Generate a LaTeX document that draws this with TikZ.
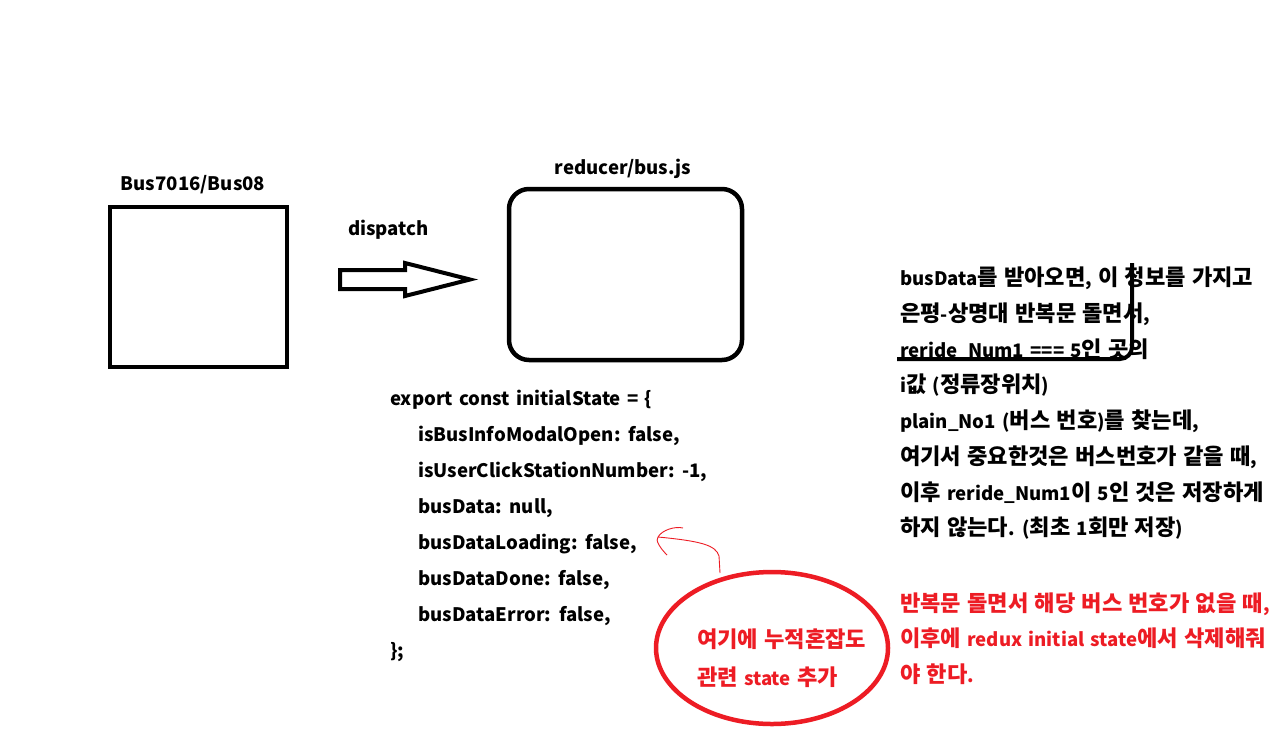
\documentclass[tikz,border=0pt]{standalone}
\usepackage{fontspec}
\setmainfont{Noto Sans CJK KR}[WordSpace=1.45]
\newfontfamily\krf{Noto Sans CJK KR}[Scale=1.19]
\XeTeXinterchartokenstate=1
\newXeTeXintercharclass\HangulClass
\newcount\hgc \hgc="AC00
\loop\XeTeXcharclass\hgc=\HangulClass \ifnum\hgc<"D7A3 \advance\hgc by 1 \repeat
\XeTeXinterchartoks 0 \HangulClass = {\krf}
\XeTeXinterchartoks 4095 \HangulClass = {\krf}
\XeTeXinterchartoks \HangulClass 0 = {\rmfamily}
\XeTeXinterchartoks \HangulClass 4095 = {\rmfamily}
\usetikzlibrary{shapes.geometric}
\definecolor{pred}{HTML}{ED1C24}
\tikzset{
  txt/.style={anchor=base west, inner sep=0pt, font=\fontsize{18.6}{24}\selectfont\bfseries},
  rtxt/.style={txt, text=pred},
  thick box/.style={draw=black, line width=4.5pt, inner sep=0pt},
}
\begin{document}
\begin{tikzpicture}[x=1pt,y=-1pt]
\useasboundingbox[fill=white] (0,0) rectangle (1281,755);
% boxes
\node[thick box, minimum width=177pt, minimum height=160pt] (src) at (198.5,287) {};
\node[thick box, rounded corners=20pt, minimum width=233pt, minimum height=171pt] (red) at (625.5,274.5) {};
\node[txt, anchor=base] (srcl) at (193,190) {Bus7016/Bus08};
\node[txt, anchor=base] (redl) at (623,174) {reducer/bus.js};
\node[txt] (disp) at (348,235) {dispatch};
% hollow arrow
\draw[line width=4pt, line join=miter] (340,270) -- (405,270) -- (405,263) -- (470,279.5) -- (405,296) -- (405,289) -- (340,289) -- cycle;
% code
\node[txt] (c1) at (390,405) {export const initialState = \{};
\node[txt] (c2) at (418,441) {isBusInfoModalOpen: false,};
\node[txt] (c3) at (418,477) {isUserClickStationNumber: -1,};
\node[txt] (c4) at (418,513) {busData: null,};
\node[txt] (c5) at (418,549) {busDataLoading: false,};
\node[txt] (c6) at (418,585) {busDataDone: false,};
\node[txt] (c7) at (418,621) {busDataError: false,};
\node[txt] (c8) at (390,657) {\};};
% right notes
\node[txt] (n1) at (900,285) {busData를 받아오면, 이 정보를 가지고};
\node[txt] (n2) at (900,321) {은평-상명대 반복문 돌면서,};
\node[txt] (n3) at (900,357) {reride\_Num1 === 5인 곳의};
\node[txt] (n4) at (900,392.5) {i값 (정류장위치)};
\node[txt] (n5) at (900,428) {plain\_No1 (버스 번호)를 찾는데,};
\node[txt] (n6) at (900,464) {여기서 중요한것은 버스번호가 같을 때,};
\node[txt] (n7) at (900,500) {이후 reride\_Num1이 5인 것은 저장하게};
\node[txt] (n8) at (900,535.5) {하지 않는다. (최초 1회만 저장)};
\node[rtxt] (r1) at (900,611) {반복문 돌면서 해당 버스 번호가 없을 때,};
\node[rtxt] (r2) at (900,646.5) {이후에 redux initial state에서 삭제해줘};
\node[rtxt] (r3) at (900,682) {야 한다.};
% black bracket line
\coordinate (bl) at (897,359);
\coordinate (bt) at (1132,263);
\draw[line width=4pt, rounded corners=12pt] (bl) -| (bt);
% red ellipse
\node[ellipse, draw=pred, line width=4.5pt, minimum width=232pt, minimum height=152pt, inner sep=0pt] (ell) at (772,648) {};
\node[rtxt] (e1) at (697,647) {여기에 누적혼잡도};
\node[rtxt] (e2) at (697,685) {관련 state 추가};
% red hand-drawn pointer
\coordinate (tip) at (658,537);
\draw[pred, line width=0.9pt] (720,573) -- (719,556) .. controls (716,545) and (700,541) .. (tip);
\draw[pred, line width=0.9pt] (667,555) .. controls (660,548) and (655,540) .. (tip) .. controls (662,530) and (675,526) .. (683,528);
\end{tikzpicture}
\end{document}
